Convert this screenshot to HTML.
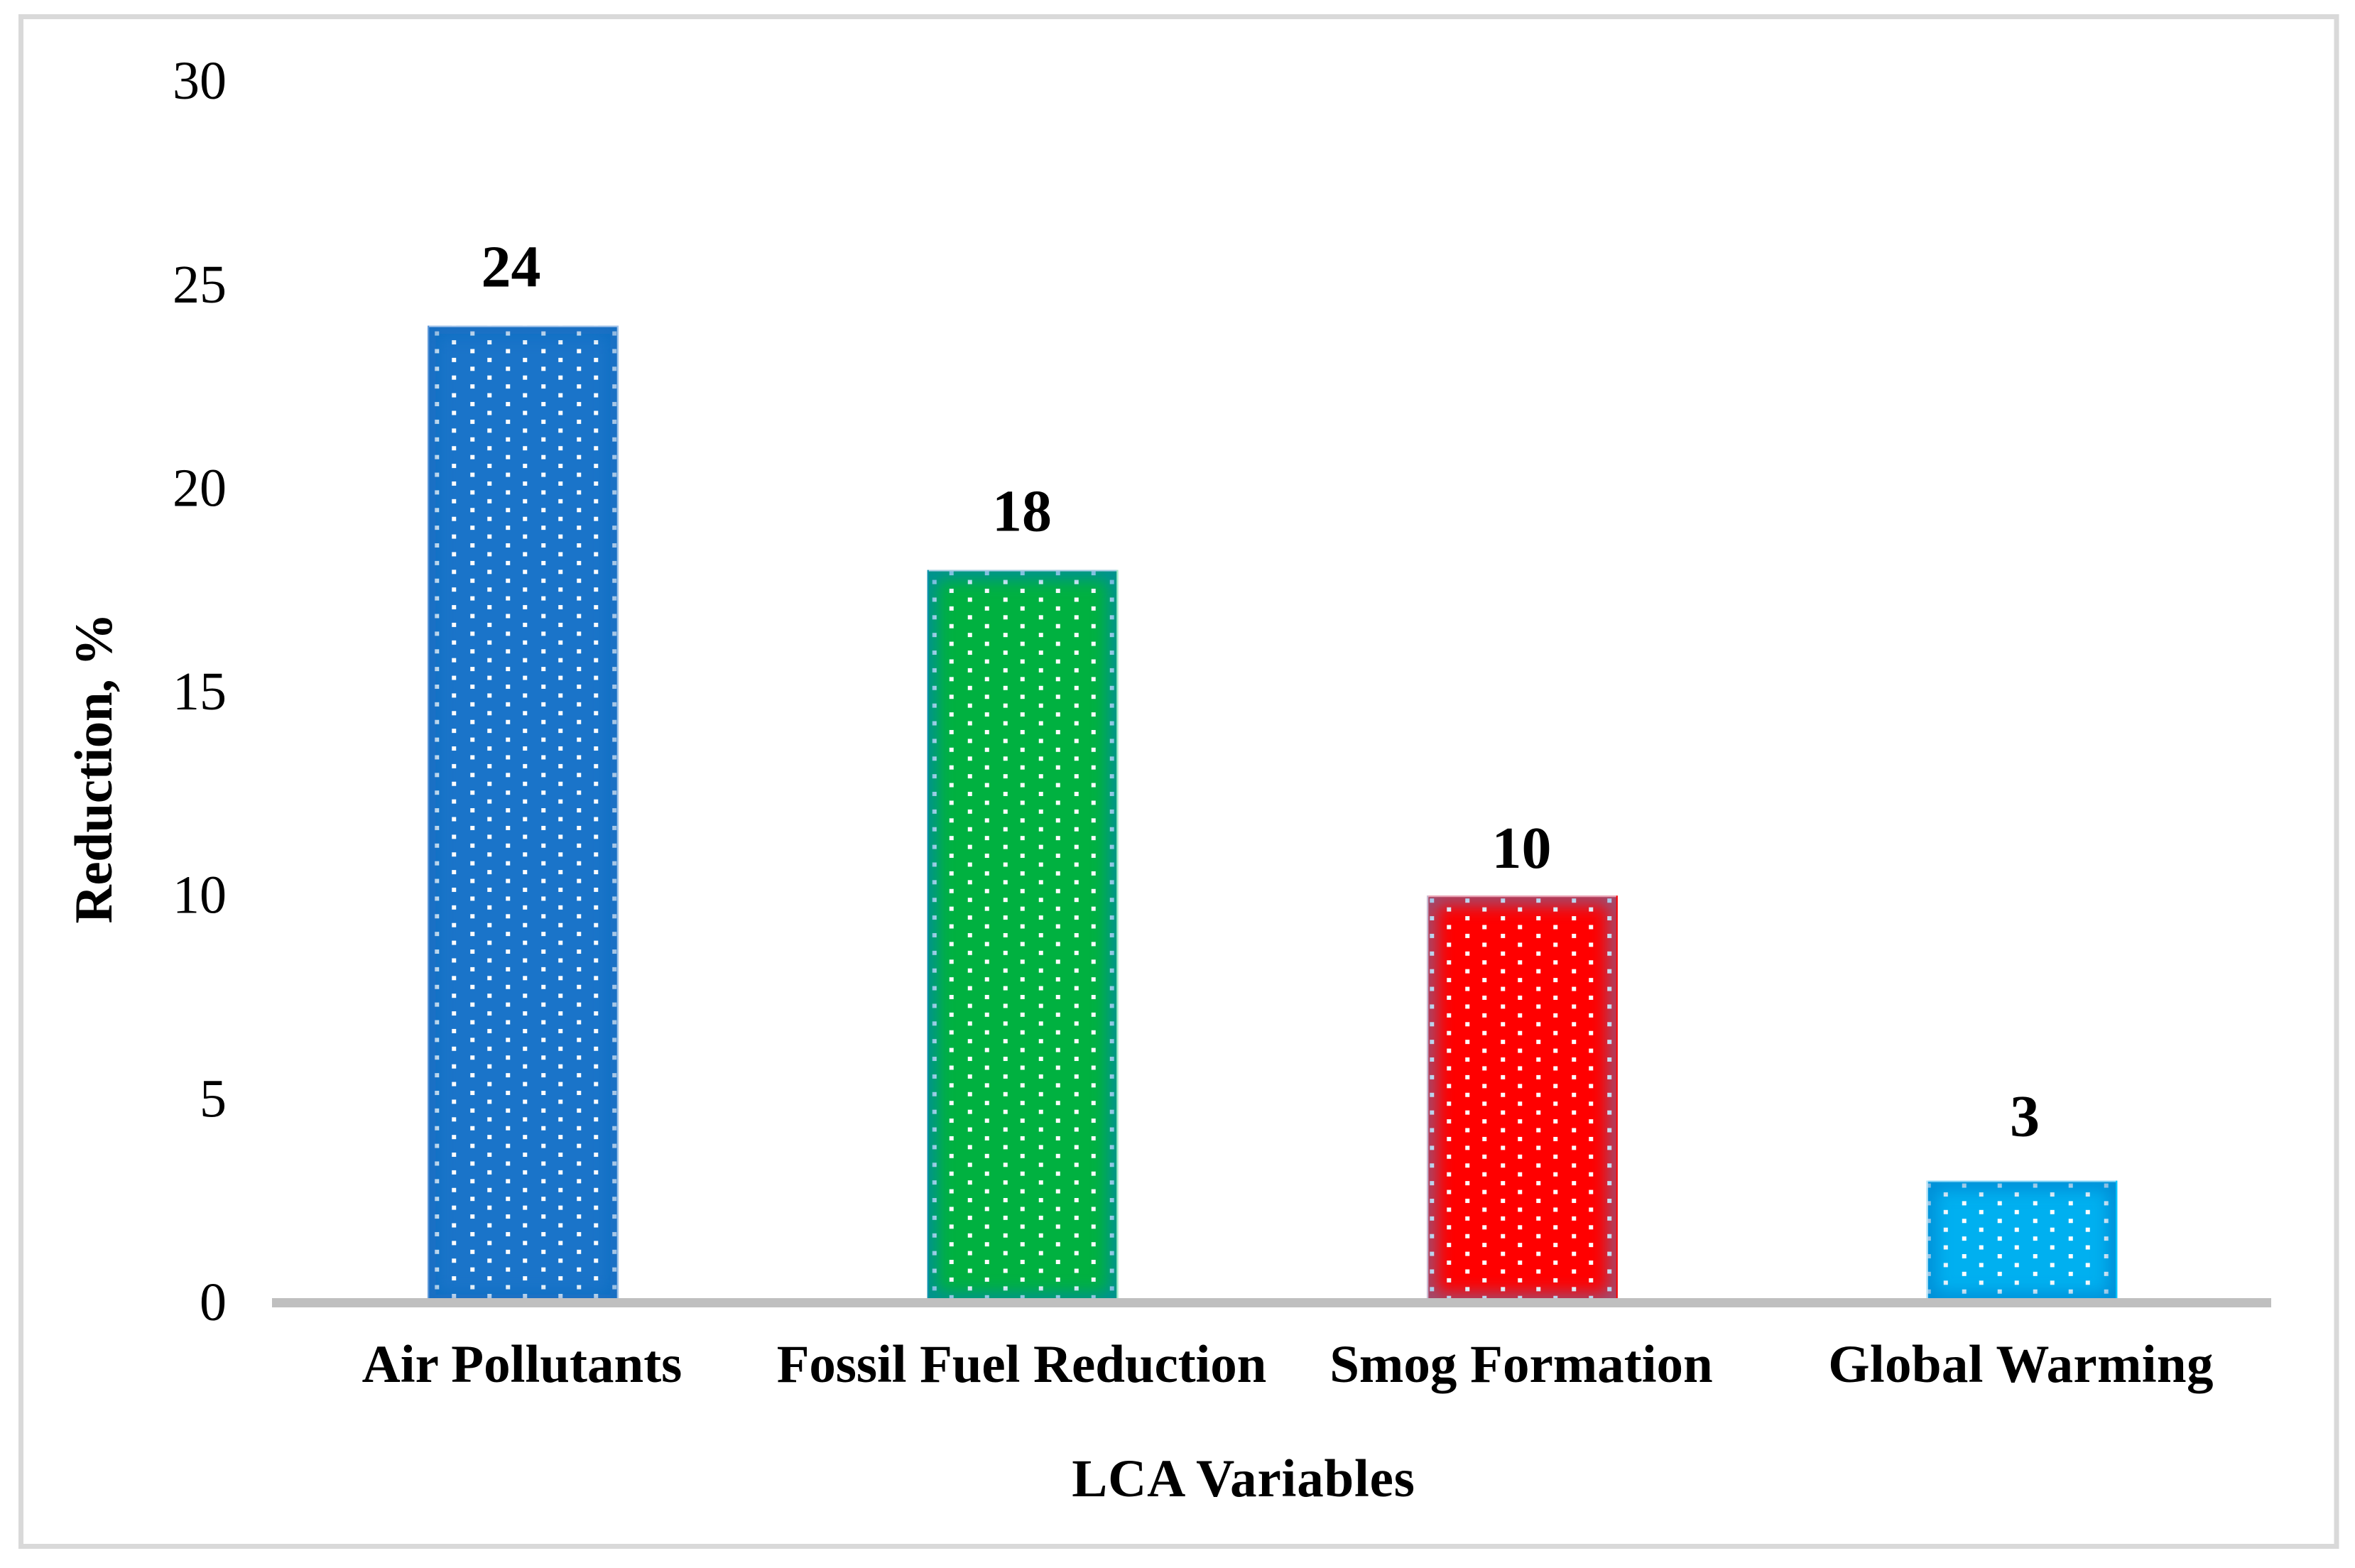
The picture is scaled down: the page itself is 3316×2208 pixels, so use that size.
<!DOCTYPE html>
<html lang="en">
<head>
<meta charset="utf-8">
<title>LCA Variables Reduction Chart</title>
<style>
  html, body { margin: 0; padding: 0; background: #ffffff; }
  svg { display: block; font-family: "Liberation Serif", serif; }
</style>
</head>
<body>
<svg id="chart" xmlns="http://www.w3.org/2000/svg" width="3316" height="2208" viewBox="0 0 3316 2208">
  <defs id="defs">
    <filter id="edge-blur" x="-30%" y="-30%" width="160%" height="160%">
      <feGaussianBlur stdDeviation="12"/>
    </filter>
  </defs>
  <rect x="0" y="0" width="3316" height="2208" fill="#ffffff"/>
  <rect x="29.5" y="23.5" width="3260.5" height="2154" fill="none" stroke="#d9d9d9" stroke-width="7"/>
  <g id="y-ticks"></g>
  <g id="bars"></g>
  <rect x="383" y="1828" width="2815" height="13" fill="#bfbfbf"/>
  <g id="x-labels"></g>
  <g id="value-labels"></g>
  <text x="1751" y="2107" font-size="75" font-weight="700" letter-spacing="0.8" text-anchor="middle" fill="#000000">LCA Variables</text>
  <text transform="translate(157 1082) rotate(-90)" font-size="75" font-weight="700" letter-spacing="-0.4" text-anchor="middle" fill="#000000">Reduction, %</text>
</svg>
<script>
const categories = ["Air Pollutants", "Fossil Fuel Reduction", "Smog Formation", "Global Warming"];
const reductionValues = [24, 18, 10, 3];
const valueLabels = ["24", "18", "10", "3"];
const yTickValues = [0, 5, 10, 15, 20, 25, 30];
const yTickLabels = ["0", "5", "10", "15", "20", "25", "30"];

const barStyles = [
  { base: "#1a74c9", glow: "#1169bd", glowOpacity: 0.6, top: "#a8c6ea", left: "#5e97d8", right: "#a8c6ea", dotDx: 13, dotDy: 11, labelDx: -17, labelGap: 55, catSpacing: 0 },
  { base: "#00b140", glow: "#0080c0", glowOpacity: 0.75, top: "#a9cde4", left: "#0f8fb0", right: "#a8eec6", dotDx: 10, dotDy: 17, labelDx: -1, labelGap: 55, catSpacing: -0.1 },
  { base: "#ff0000", glow: "#4a8ed0", glowOpacity: 0.62, top: "#eba6b8", left: "#c8c8e0", right: "#ff0000", dotDx: 7, dotDy: 7, labelDx: -1, labelGap: 39, catSpacing: 0 },
  { base: "#00b0f0", glow: "#0070c0", glowOpacity: 0.6, top: "#8cd8f8", left: "#c0e8fa", right: "#00c8ff", dotDx: 3, dotDy: 7, labelDx: 4, labelGap: 63, catSpacing: 0.3 }
];

const SVG_NS = "http://www.w3.org/2000/svg";
const Y_ZERO = 1834.5;
const Y_UNIT = 57.33;
const X_FIRST = 736.5;
const X_STEP = 703.5;
const BAR_WIDTH = 268.5;
const DOT_TILE_W = 50;
const DOT_TILE_H = 24.87;
const DOT_SIZE = 6;

function yScale(value) {
  return Y_ZERO - value * Y_UNIT;
}
function xScale(index) {
  return X_FIRST + index * X_STEP;
}
function make(tag, attrs) {
  const el = document.createElementNS(SVG_NS, tag);
  for (const key in attrs) {
    el.setAttribute(key, attrs[key]);
  }
  return el;
}
function slug(text) {
  return text.toLowerCase().replace(/[^a-z0-9]+/g, "-");
}

const defs = document.getElementById("defs");
const barsGroup = document.getElementById("bars");
const yTicksGroup = document.getElementById("y-ticks");
const xLabelsGroup = document.getElementById("x-labels");
const valueLabelsGroup = document.getElementById("value-labels");

yTickValues.forEach(function (tick, i) {
  const label = make("text", { x: 319, y: yScale(tick) + 24.5, "font-size": 76, "text-anchor": "end", fill: "#000000" });
  
  
  label.textContent = yTickLabels[i];
  yTicksGroup.appendChild(label);
});

reductionValues.forEach(function (value, i) {
  const style = barStyles[i];
  const center = xScale(i);
  const x = center - BAR_WIDTH / 2;
  const top = yScale(value);
  const height = Y_ZERO - top;
  const name = slug(categories[i]);

  const pattern = make("pattern", {
    id: "dots-" + i,
    patternUnits: "userSpaceOnUse",
    x: x + style.dotDx - DOT_SIZE / 2,
    y: top + style.dotDy - DOT_SIZE / 2,
    width: DOT_TILE_W,
    height: DOT_TILE_H
  });
  pattern.appendChild(make("rect", { x: 0, y: 0, width: DOT_SIZE, height: DOT_SIZE, fill: "#ffffff" }));
  pattern.appendChild(make("rect", { x: 24, y: 12.43, width: DOT_SIZE, height: DOT_SIZE, fill: "#ffffff" }));
  defs.appendChild(pattern);

  const clip = make("clipPath", { id: "bar-clip-" + i });
  clip.appendChild(make("rect", { x: x, y: top, width: BAR_WIDTH, height: height }));
  defs.appendChild(clip);

  const group = make("g", {});
  
  

  const baseRect = make("rect", { x: x, y: top, width: BAR_WIDTH, height: height, fill: style.base });
  
  
  group.appendChild(baseRect);

  const dotsRect = make("rect", { x: x, y: top, width: BAR_WIDTH, height: height, fill: "url(#dots-" + i + ")" });
  
  
  group.appendChild(dotsRect);

  const glowClip = make("g", { "clip-path": "url(#bar-clip-" + i + ")" });
  const glowRect = make("rect", {
    x: x, y: top, width: BAR_WIDTH, height: height,
    fill: "none", stroke: style.glow, "stroke-width": 24,
    "stroke-opacity": style.glowOpacity, filter: "url(#edge-blur)"
  });
  
  
  glowClip.appendChild(glowRect);
  group.appendChild(glowClip);

  const topEdge = make("rect", { x: x, y: top, width: BAR_WIDTH, height: 2, fill: style.top });
  
  
  group.appendChild(topEdge);

  const leftEdge = make("rect", { x: x, y: top, width: 2, height: height, fill: style.left });
  
  
  group.appendChild(leftEdge);

  const rightEdge = make("rect", { x: x + BAR_WIDTH - 2, y: top, width: 2, height: height, fill: style.right });
  
  
  group.appendChild(rightEdge);

  barsGroup.appendChild(group);

  const valueLabel = make("text", {
    x: center + style.labelDx, y: top - style.labelGap,
    "font-size": 84, "font-weight": 700, "text-anchor": "middle", fill: "#000000"
  });
  
  
  valueLabel.textContent = valueLabels[i];
  valueLabelsGroup.appendChild(valueLabel);

  const catLabel = make("text", {
    x: center - 1.5, y: 1946,
    "font-size": 75, "font-weight": 700, "letter-spacing": style.catSpacing, "text-anchor": "middle", fill: "#000000"
  });
  
  
  catLabel.textContent = categories[i];
  xLabelsGroup.appendChild(catLabel);
});
</script>
</body>
</html>
